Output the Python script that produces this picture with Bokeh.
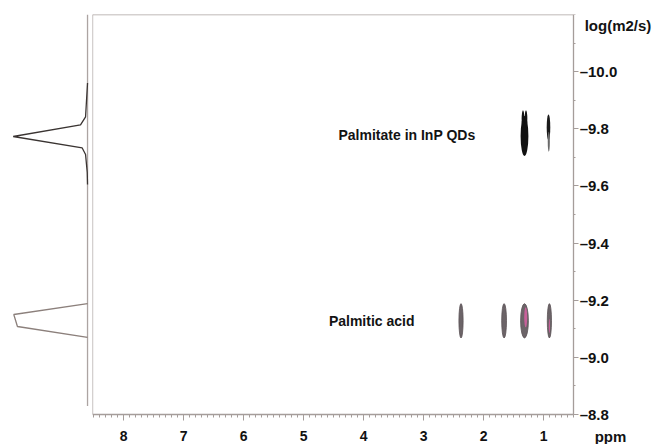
from bokeh.plotting import figure
from bokeh.layouts import row
from bokeh.models import Range1d, FixedTicker, ColumnDataSource, LinearAxis
from bokeh.core.properties import value
from bokeh.embed import file_html
from bokeh.resources import INLINE

# ---------------- data ----------------
x_ticks = [1, 2, 3, 4, 5, 6, 7, 8]
x_minor = [round(0.5 + 0.1 * i, 1) for i in range(81)]
y_ticks = [-10.0, -9.8, -9.6, -9.4, -9.2, -9.0, -8.8]
y_tick_labels = ["\u201310.0", "\u20139.8", "\u20139.6", "\u20139.4", "\u20139.2", "\u20139.0", "\u20138.8"]
y_minor = [round(-10.2 + 0.1 * i, 1) for i in range(15)]
ppm_lo, ppm_hi = 0.5, 8.52
logd_lo, logd_hi = -10.2, -8.8

# contour peaks: Palmitate in InP QDs (dark)
qd_ppm = [1.32, 1.345, 1.295, 0.92, 0.915]
qd_logd = [-9.775, -9.835, -9.835, -9.805, -9.755]
qd_w = [0.13, 0.045, 0.045, 0.06, 0.035]
qd_h = [0.14, 0.06, 0.06, 0.09, 0.07]
qd_col = ["#111111", "#111111", "#111111", "#1a1a1a", "#6a6a6a"]

# contour peaks: Palmitic acid (grey with magenta cores)
pa_ppm = [2.378, 1.66, 1.32, 0.905]
pa_logd = [-9.128, -9.128, -9.128, -9.128]
pa_w = [0.07, 0.08, 0.13, 0.07]
pa_h = [0.12, 0.12, 0.12, 0.12]
pa_core_ppm = [1.30, 0.905]
pa_core_logd = [-9.14, -9.11]
pa_core_w = [0.05, 0.02]
pa_core_h = [0.07, 0.05]

# 1D projection (diffusion dimension)
proj_base_logd = [-10.2, -8.83]
proj_base_int = [0, 0]
qd_proj_logd = [-9.96, -9.842, -9.814, -9.773, -9.733, -9.710, -9.647, -9.605]
qd_proj_int = [0.0, 0.027, 0.096, 1.018, 0.073, 0.027, 0.004, 0.0]
pa_proj_logd = [-9.188, -9.150, -9.108, -9.070]
pa_proj_int = [0.0, 1.01, 0.96, 0.0]

# in-plot annotations and axis titles
text_ppm = [4.42, 4.58, 0.15, 0.317]
text_logd = [-9.779, -9.129, -8.723, -10.1615]
text_str = ["Palmitate in InP QDs", "Palmitic acid", "ppm", "log(m2/s)"]
text_size = ["14px", "14px", "15px", "15px"]

FONT = "Liberation Sans"
AXC = "#a59d9a"
FRAMEC = "#aaa2a0"

yr = Range1d(start=-8.695, end=-10.2)

# ---------------- left projection ----------------
p0 = figure(width=92, height=444, x_range=Range1d(1.192, -0.068), y_range=yr,
            output_backend="svg", toolbar_location=None,
            min_border_left=0, min_border_right=0, min_border_top=14, min_border_bottom=0)
p0.xaxis.visible = False
p0.yaxis.visible = False
p0.xgrid.visible = False
p0.ygrid.visible = False
p0.outline_line_color = None

p0.line(proj_base_int, proj_base_logd, line_color="#aca4a2", line_width=1.3)
p0.line(qd_proj_int, qd_proj_logd, line_color="#3a3432", line_width=1.3)
p0.line(pa_proj_int, pa_proj_logd, line_color="#8c807c", line_width=1.3)

# ---------------- main DOSY map ----------------
p = figure(width=564, height=444, x_range=Range1d(8.52, -0.88), y_range=yr,
           output_backend="svg", toolbar_location=None,
           x_axis_location=None, y_axis_location=None,
           min_border_left=0, min_border_right=0, min_border_top=14, min_border_bottom=0)
p.xgrid.visible = False
p.ygrid.visible = False
p.outline_line_color = None


def style_labels(ax, size):
    ax.major_label_text_font = FONT
    ax.major_label_text_font_style = "bold"
    ax.major_label_text_font_size = size
    ax.major_label_text_color = "#111111"


xa = LinearAxis(fixed_location=logd_hi, bounds=(ppm_lo, ppm_hi),
                ticker=FixedTicker(ticks=x_ticks, minor_ticks=x_minor))
xa.axis_line_color = AXC
xa.axis_line_width = 1.3
xa.major_tick_line_color = AXC
xa.minor_tick_line_color = AXC
xa.major_tick_out = 6
xa.major_tick_in = 0
xa.minor_tick_out = 3
xa.minor_tick_in = 0
xa.major_label_standoff = 10
style_labels(xa, "14px")
p.add_layout(xa, "below")

ya = LinearAxis(fixed_location=ppm_lo, bounds=(logd_lo, logd_hi),
                ticker=FixedTicker(ticks=y_ticks, minor_ticks=y_minor))
ya.major_label_overrides = {t: s for t, s in zip(y_ticks, y_tick_labels)}
ya.axis_line_color = AXC
ya.axis_line_width = 1.3
ya.major_tick_line_color = AXC
ya.minor_tick_line_color = AXC
ya.major_tick_out = 5
ya.major_tick_in = 0
ya.minor_tick_out = 2
ya.minor_tick_in = 0
ya.major_label_standoff = 1
style_labels(ya, "15px")
p.add_layout(ya, "right")

# plain frame edges (top and left) as tick-less axes
top = LinearAxis(fixed_location=logd_lo, bounds=(ppm_lo, ppm_hi), ticker=FixedTicker(ticks=[]))
top.axis_line_color = FRAMEC
top.axis_line_width = 1.3
top.major_tick_line_color = None
top.minor_tick_line_color = None
p.add_layout(top, "above")

left = LinearAxis(fixed_location=ppm_hi, bounds=(logd_lo, logd_hi), ticker=FixedTicker(ticks=[]))
left.axis_line_color = FRAMEC
left.axis_line_width = 1.3
left.major_tick_line_color = None
left.minor_tick_line_color = None
p.add_layout(left, "left")

p.ellipse(x=pa_ppm, y=pa_logd, width=pa_w, height=pa_h,
          fill_color="#6c6468", line_color="#5a5256", line_width=0.8)
p.ellipse(x=pa_core_ppm, y=pa_core_logd, width=pa_core_w, height=pa_core_h,
          fill_color="#c8609a", line_color=None)
p.ellipse(x=qd_ppm, y=qd_logd, width=qd_w, height=qd_h,
          fill_color=qd_col, line_color=None)

src = ColumnDataSource(dict(x=text_ppm, y=text_logd, t=text_str, s=text_size))
p.text(x="x", y="y", text="t", source=src, text_font=value(FONT),
       text_font_style="bold", text_font_size="s", text_color="#131313",
       text_align="left", text_baseline="middle")

layout = row(p0, p)
open("out.html", "w").write(file_html(layout, INLINE))
